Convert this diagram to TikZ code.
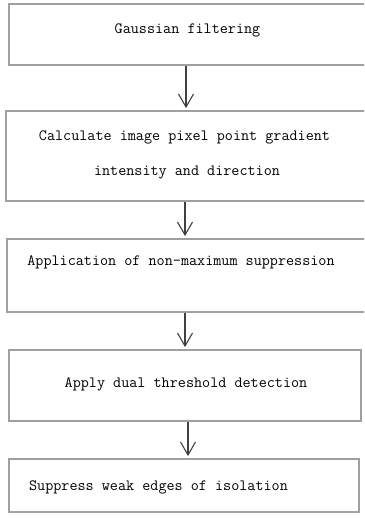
\documentclass[tikz,border=0pt]{standalone}
\usepackage{fontspec}
\usetikzlibrary{arrows.meta}
\definecolor{boxgray}{HTML}{A0A0A0}
\definecolor{arrgray}{HTML}{404040}
\tikzset{
  stepbox/.style={draw=boxgray,line width=1.8pt,rectangle,inner sep=0pt},
  lbl/.style={inner sep=0pt,font=\ttfamily\fontsize{15.7pt}{18pt}\selectfont,text=black},
  arr/.style={draw=arrgray,line width=1.1pt,-{Straight Barb[length=13pt,width=15pt,line width=1.1pt]}}
}
\begin{document}
\begin{tikzpicture}[x=1pt,y=-1pt]
\clip (0,0) rectangle (364,524);
\useasboundingbox (0,0) rectangle (364,524);
\fill[white] (0,0) rectangle (364,524);
\node[stepbox,minimum width=359pt,minimum height=61pt] (b1) at (188.5,34.5) {};
\node[stepbox,minimum width=362pt,minimum height=90pt] (b2) at (187,156) {};
\node[stepbox,minimum width=361pt,minimum height=73pt] (b3) at (187.5,275.5) {};
\node[stepbox,minimum width=352pt,minimum height=71pt] (b4) at (185,385.5) {};
\node[stepbox,minimum width=350pt,minimum height=53pt] (b5) at (184,485.5) {};
\node[lbl] (t1) at (187.5,30) {Gaussian filtering};
\node[lbl] (t2a) at (184.5,137) {Calculate image pixel point gradient};
\node[lbl] (t2b) at (187,172) {intensity and direction};
\node[lbl] (t3) at (181,262) {Application of non-maximum suppression};
\node[lbl] (t4) at (186,384) {Apply dual threshold detection};
\node[lbl] (t5) at (158.5,487) {Suppress weak edges of isolation};
\coordinate (x1) at (186,0);
\coordinate (x2) at (185,0);
\coordinate (x3) at (185,0);
\coordinate (x4) at (188,0);
\draw[arr] (b1.south -| x1) -- ([yshift=2pt]b2.north -| x1);
\draw[arr] (b2.south -| x2) -- ([yshift=2pt]b3.north -| x2);
\draw[arr] (b3.south -| x3) -- ([yshift=2pt]b4.north -| x3);
\draw[arr] (b4.south -| x4) -- ([yshift=2pt]b5.north -| x4);
\end{tikzpicture}
\end{document}
